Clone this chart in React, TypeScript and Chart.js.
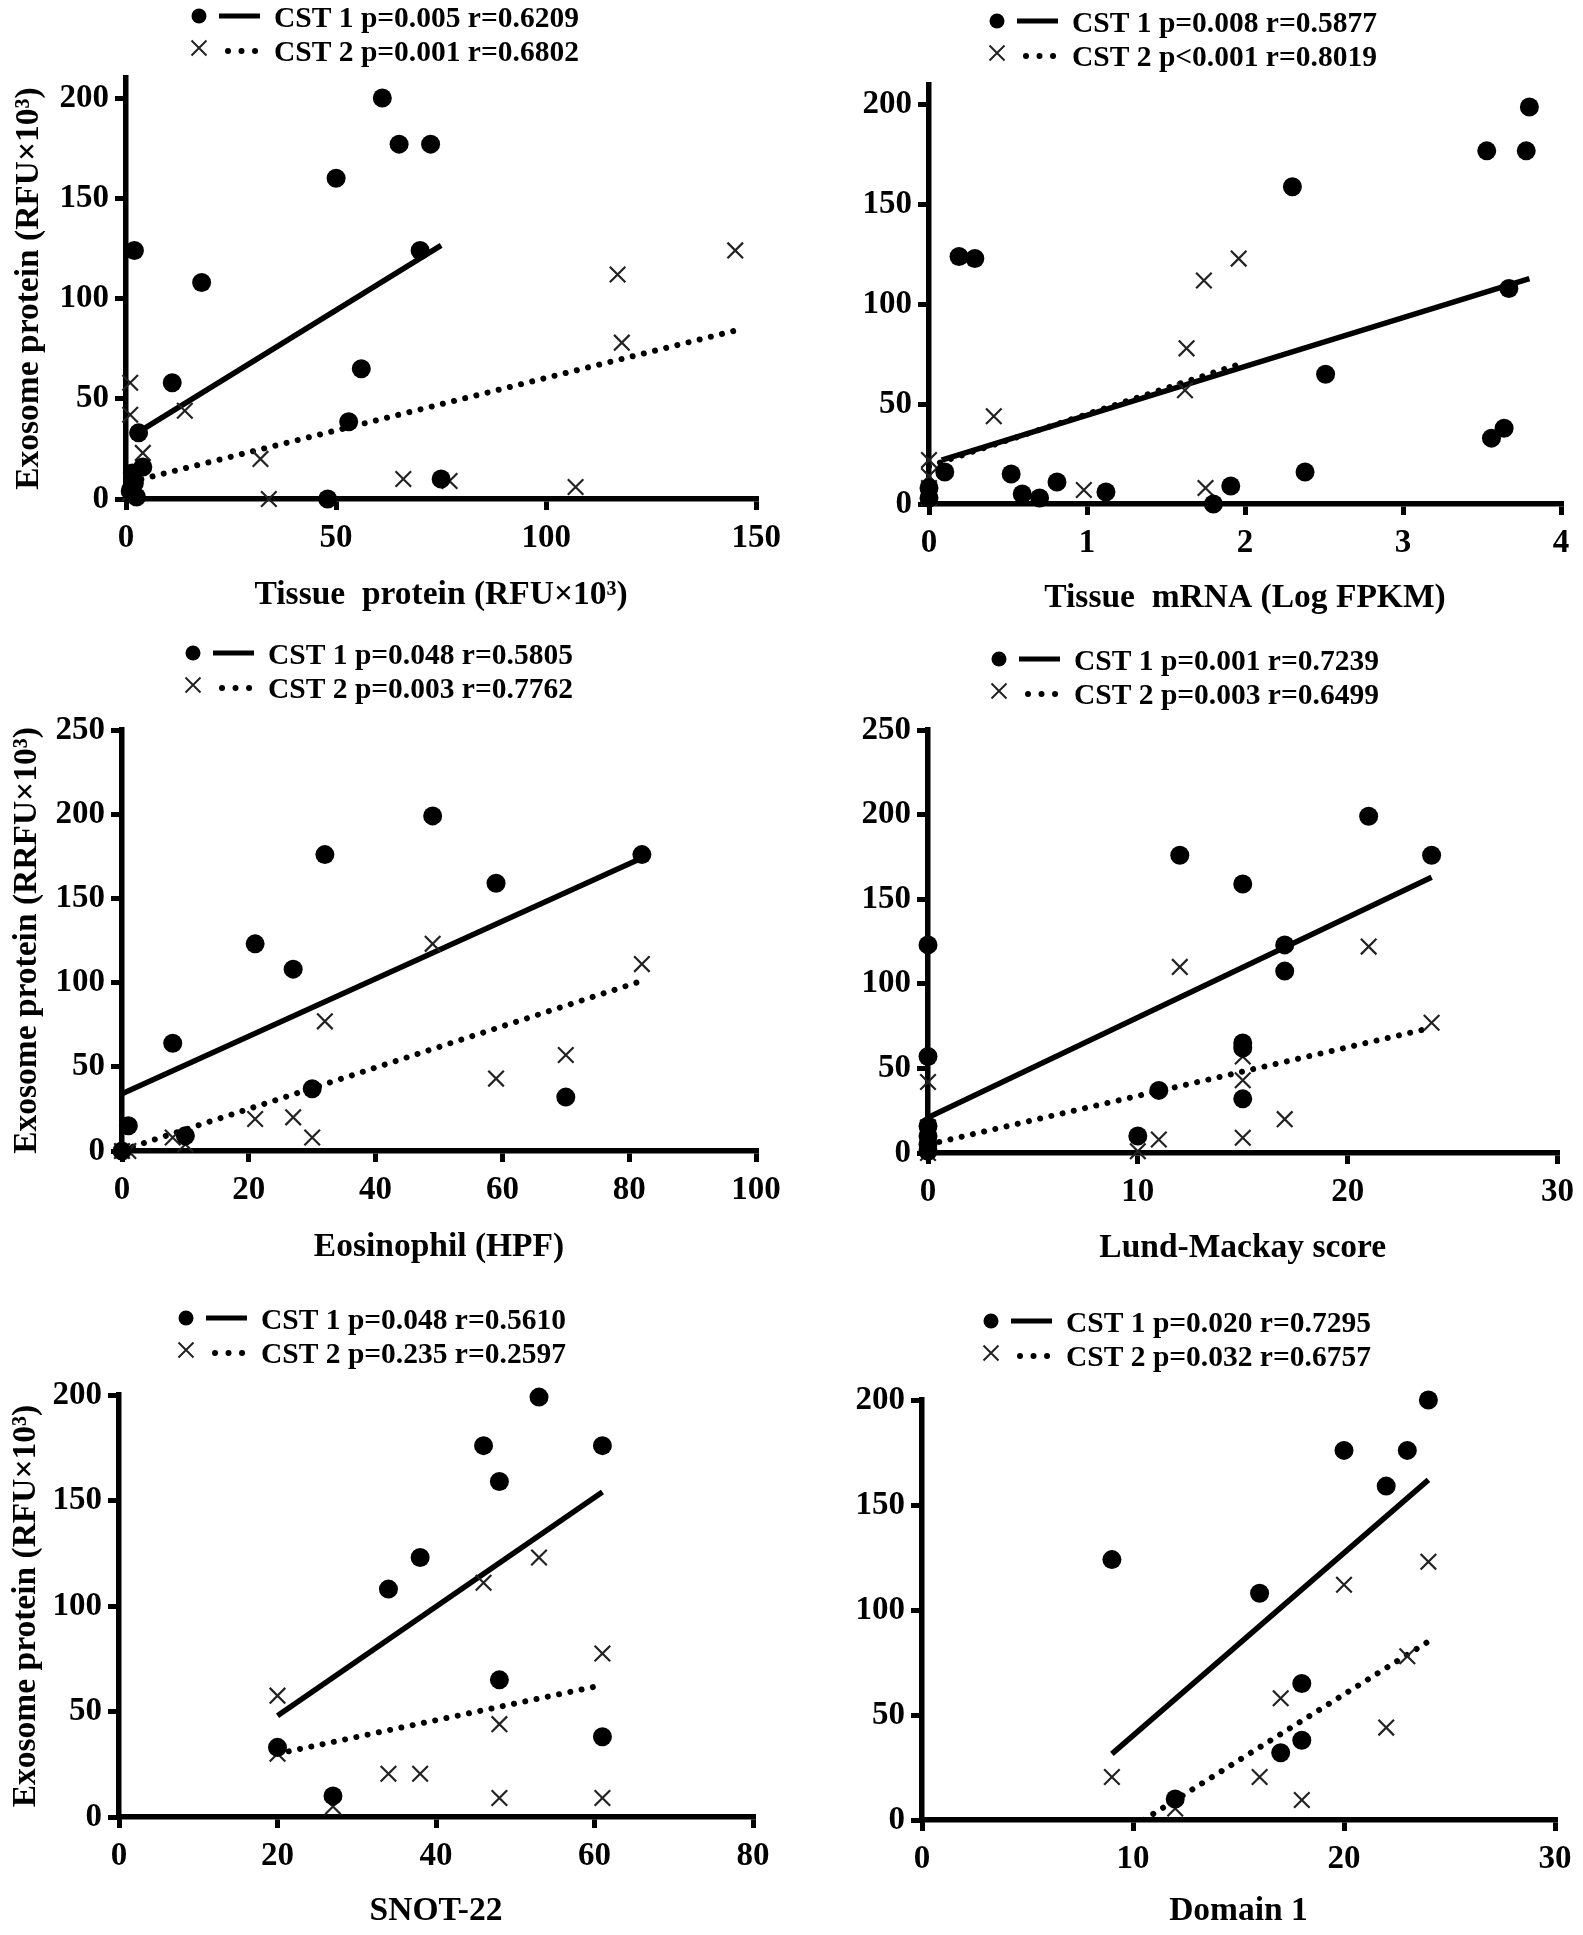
import React, { useEffect, useRef } from "react";
import { Chart, registerables } from "chart.js";

Chart.register(...registerables);

const FONT = "'Liberation Serif', 'Times New Roman', Times, serif";

// ---------- Panel 1: Tissue protein ----------
const tissueProteinCst1: number[][] = [
  [61, 200], [65, 177], [72.5, 177], [50, 160], [2, 124], [70, 124], [18, 108],
  [11, 58], [56, 65], [53, 38.5], [3, 33], [4, 16], [75, 10], [48, 0],
  [1.5, 13], [2, 8], [1, 4], [2.5, 1],
];
const tissueProteinCst2: number[][] = [
  [145, 124], [117, 112], [118, 78], [1, 58], [1, 42], [14, 44], [4, 23],
  [32, 20], [34, 0], [66, 10], [77, 9], [107, 6], [2, 12], [1, 3],
];
const tissueProteinFit1: number[][] = [[1.5, 31.5], [75, 126.5]];
const tissueProteinFit2: number[][] = [[1, 8.5], [145, 84]];
const tissueProteinLegend = ["CST 1 p=0.005 r=0.6209", "CST 2 p=0.001 r=0.6802"];
const tissueProteinXTicks = [0, 50, 100, 150];

// ---------- Panel 2: Tissue mRNA ----------
const tissueMrnaCst1: number[][] = [
  [3.8, 199], [3.53, 177], [3.78, 177], [2.3, 159], [0.19, 124], [0.29, 123],
  [3.67, 108], [2.51, 65], [3.64, 38], [3.56, 33], [2.38, 16], [1.91, 9],
  [1.8, 0], [1.12, 6], [0.81, 11], [0.7, 3], [0.59, 5], [0.52, 15], [0.1, 16],
  [0, 8], [0, 3],
];
const tissueMrnaCst2: number[][] = [
  [1.96, 123], [1.74, 112], [1.63, 78], [1.62, 57], [0.41, 44], [0.98, 7],
  [1.75, 8], [0, 22], [0, 14], [0, 8], [0, 3],
];
const tissueMrnaFit1: number[][] = [[0.08, 22], [3.8, 113]];
const tissueMrnaFit2: number[][] = [[0, 19], [1.96, 70]];
const tissueMrnaLegend = ["CST 1 p=0.008 r=0.5877", "CST 2 p<0.001 r=0.8019"];
const tissueMrnaXTicks = [0, 1, 2, 3, 4];

// ---------- Panel 3: Eosinophil ----------
const eosinophilCst1: number[][] = [
  [49, 199], [32, 176], [82, 176], [59, 159], [21, 123], [27, 108], [8, 64],
  [30, 37], [70, 32], [1, 15], [10, 9], [0, 0],
];
const eosinophilCst2: number[][] = [
  [49, 123], [82, 111], [32, 77], [70, 57], [59, 43], [21, 19], [27, 20],
  [30, 8], [8, 8], [10, 4], [1, 0], [0, 0],
];
const eosinophilFit1: number[][] = [[0, 34], [82, 174]];
const eosinophilFit2: number[][] = [[0, 0.5], [82, 101]];
const eosinophilLegend = ["CST 1 p=0.048 r=0.5805", "CST 2 p=0.003 r=0.7762"];
const eosinophilXTicks = [0, 20, 40, 60, 80, 100];

// ---------- Panel 4: Lund-Mackay ----------
const lundMackayCst1: number[][] = [
  [21, 199], [12, 176], [24, 176], [15, 159], [0, 123], [17, 123], [17, 107.5],
  [15, 65], [15, 62], [0, 57], [11, 37], [15, 32], [10, 10], [0, 16], [0, 10],
  [0, 5], [0, 1],
];
const lundMackayCst2: number[][] = [
  [21, 122], [12, 110], [24, 77], [15, 57], [15, 43], [0, 42], [17, 20],
  [11, 8], [15, 9], [10, 1], [0, 15], [0, 5], [0, 0],
];
const lundMackayFit1: number[][] = [[0, 21], [24, 163]];
const lundMackayFit2: number[][] = [[0, 5], [24, 74]];
const lundMackayLegend = ["CST 1 p=0.001 r=0.7239", "CST 2 p=0.003 r=0.6499"];
const lundMackayXTicks = [0, 10, 20, 30];

// ---------- Panel 5: SNOT-22 ----------
const snotCst1: number[][] = [
  [53, 199], [46, 176], [61, 176], [48, 159], [38, 123], [34, 108], [48, 65],
  [61, 38], [20, 33], [27, 10],
];
const snotCst2: number[][] = [
  [53, 123], [46, 111], [61, 77.5], [20, 57.5], [48, 44], [34, 20.5],
  [38, 20.5], [48, 9], [61, 9], [27, 5], [20, 30],
];
const snotFit1: number[][] = [[20, 48], [61, 154]];
const snotFit2: number[][] = [[20, 30], [61, 62.5]];
const snotLegend = ["CST 1 p=0.048 r=0.5610", "CST 2 p=0.235 r=0.2597"];
const snotXTicks = [0, 20, 40, 60, 80];

// ---------- Panel 6: Domain 1 ----------
const domainCst1: number[][] = [
  [24, 200], [20, 176], [23, 176], [22, 159], [9, 124], [16, 108], [18, 65],
  [18, 38], [17, 32], [12, 10],
];
const domainCst2: number[][] = [
  [24, 123], [20, 112], [23, 78], [17, 58], [22, 44], [9, 20.5], [16, 20.5],
  [18, 9.5], [12, 5.5],
];
const domainFit1: number[][] = [[9, 31.5], [24, 162]];
const domainFit2: number[][] = [[10.5, 0], [24, 85]];
const domainLegend = ["CST 1 p=0.020 r=0.7295", "CST 2 p=0.032 r=0.6757"];
const domainXTicks = [0, 10, 20, 30];

const yTicks200 = [0, 50, 100, 150, 200];
const yTicks250 = [0, 50, 100, 150, 200, 250];

// ---------- layout (page pixel coordinates) ----------
type Box = { x: number; y: number; w: number; h: number };
type Panel = {
  box: Box;
  area: { l: number; r: number; t: number; b: number };
  xMax: number;
  yMax: number;
  xTicks: number[];
  yTicks: number[];
  cst1: number[][];
  cst2: number[][];
  fit1: number[][];
  fit2: number[][];
  legend: string[];
  legendAt: { x: number; y: number };
  xTitle: string;
  xTitleY: number;
  yTitle: string | null;
  yTitleX: number;
};

const panels: Panel[] = [
  {
    box: { x: 0, y: 0, w: 790, h: 620 },
    area: { l: 126, r: 758, t: 78, b: 499 },
    xMax: 150, yMax: 210, xTicks: tissueProteinXTicks, yTicks: yTicks200,
    cst1: tissueProteinCst1, cst2: tissueProteinCst2,
    fit1: tissueProteinFit1, fit2: tissueProteinFit2,
    legend: tissueProteinLegend, legendAt: { x: 199, y: 16 },
    xTitle: "Tissue  protein (RFU×10³)", xTitleY: 595,
    yTitle: "Exosome protein (RFU×10³)", yTitleX: 29,
  },
  {
    box: { x: 790, y: 0, w: 793, h: 620 },
    area: { l: 929, r: 1561, t: 85, b: 504 },
    xMax: 4, yMax: 210, xTicks: tissueMrnaXTicks, yTicks: yTicks200,
    cst1: tissueMrnaCst1, cst2: tissueMrnaCst2,
    fit1: tissueMrnaFit1, fit2: tissueMrnaFit2,
    legend: tissueMrnaLegend, legendAt: { x: 997, y: 21 },
    xTitle: "Tissue  mRNA (Log FPKM)", xTitleY: 598,
    yTitle: null, yTitleX: 0,
  },
  {
    box: { x: 0, y: 620, w: 790, h: 670 },
    area: { l: 122, r: 756, t: 730, b: 1151 },
    xMax: 100, yMax: 250, xTicks: eosinophilXTicks, yTicks: yTicks250,
    cst1: eosinophilCst1, cst2: eosinophilCst2,
    fit1: eosinophilFit1, fit2: eosinophilFit2,
    legend: eosinophilLegend, legendAt: { x: 193, y: 653 },
    xTitle: "Eosinophil (HPF)", xTitleY: 1247,
    yTitle: "Exosome protein (RRFU×10³)", yTitleX: 27,
  },
  {
    box: { x: 790, y: 620, w: 793, h: 670 },
    area: { l: 928, r: 1561, t: 730, b: 1153 },
    xMax: 30, yMax: 250, xTicks: lundMackayXTicks, yTicks: yTicks250,
    cst1: lundMackayCst1, cst2: lundMackayCst2,
    fit1: lundMackayFit1, fit2: lundMackayFit2,
    legend: lundMackayLegend, legendAt: { x: 999, y: 659 },
    xTitle: "Lund-Mackay score", xTitleY: 1248,
    yTitle: null, yTitleX: 0,
  },
  {
    box: { x: 0, y: 1290, w: 790, h: 645 },
    area: { l: 119, r: 753, t: 1395, b: 1817 },
    xMax: 80, yMax: 200, xTicks: snotXTicks, yTicks: yTicks200,
    cst1: snotCst1, cst2: snotCst2,
    fit1: snotFit1, fit2: snotFit2,
    legend: snotLegend, legendAt: { x: 186, y: 1318 },
    xTitle: "SNOT-22", xTitleY: 1911,
    yTitle: "Exosome protein (RFU×10³)", yTitleX: 26,
  },
  {
    box: { x: 790, y: 1290, w: 793, h: 645 },
    area: { l: 922, r: 1555, t: 1400, b: 1820 },
    xMax: 30, yMax: 200, xTicks: domainXTicks, yTicks: yTicks200,
    cst1: domainCst1, cst2: domainCst2,
    fit1: domainFit1, fit2: domainFit2,
    legend: domainLegend, legendAt: { x: 991, y: 1321 },
    xTitle: "Domain 1", xTitleY: 1911,
    yTitle: null, yTitleX: 0,
  },
];

const TICK_FONT = 33;
const TITLE_FONT = 33.5;
const LEGEND_FONT = 29.5;

const toPts = (arr: number[][]) => arr.map(([x, y]) => ({ x, y }));

function buildChart(canvas: HTMLCanvasElement, p: Panel) {
  const { box, area } = p;
  const titleLH = TITLE_FONT * 1.2;
  const xScaleHeight = box.y + box.h - area.b;
  const yScaleWidth = area.l - box.x;

  const legendPlugin = {
    id: "cstLegend",
    afterDraw(chart: any) {
      const ctx: CanvasRenderingContext2D = chart.ctx;
      const x = p.legendAt.x - box.x;
      const y1 = p.legendAt.y - box.y;
      const y2 = y1 + 34;
      ctx.save();
      // row 1: dot + solid line
      ctx.fillStyle = "#000";
      ctx.beginPath();
      ctx.arc(x, y1, 7.5, 0, Math.PI * 2);
      ctx.fill();
      ctx.strokeStyle = "#000";
      ctx.lineWidth = 5;
      ctx.lineCap = "butt";
      ctx.beginPath();
      ctx.moveTo(x + 20, y1);
      ctx.lineTo(x + 61, y1);
      ctx.stroke();
      // row 2: cross + dotted line
      ctx.strokeStyle = "#222";
      ctx.lineWidth = 2;
      const c = 7.5;
      ctx.beginPath();
      ctx.moveTo(x - c, y2 - 2 - c);
      ctx.lineTo(x + c, y2 - 2 + c);
      ctx.moveTo(x + c, y2 - 2 - c);
      ctx.lineTo(x - c, y2 - 2 + c);
      ctx.stroke();
      ctx.strokeStyle = "#000";
      ctx.lineWidth = 6;
      ctx.lineCap = "round";
      ctx.setLineDash([0.01, 13.5]);
      ctx.beginPath();
      ctx.moveTo(x + 29, y2 + 1);
      ctx.lineTo(x + 57, y2 + 1);
      ctx.stroke();
      ctx.setLineDash([]);
      ctx.fillStyle = "#000";
      ctx.font = `bold ${LEGEND_FONT}px ${FONT}`;
      ctx.textBaseline = "middle";
      ctx.textAlign = "left";
      ctx.fillText(p.legend[0], x + 75, y1 + 3);
      ctx.fillText(p.legend[1], x + 75, y2 + 3);
      ctx.restore();
    },
  };

  const axisCommon = {
    type: "linear" as const,
    min: 0,
    grid: {
      display: true,
      drawOnChartArea: false,
      drawTicks: true,
      tickLength: 11,
      tickWidth: 5,
      tickColor: "#000",
      color: "#000",
      lineWidth: 5,
    },
    border: { display: true, width: 5.5, color: "#000" },
  };

  return new Chart(canvas, {
    type: "scatter",
    data: {
      datasets: [
        {
          label: "CST 1",
          data: toPts(p.cst1),
          pointStyle: "circle",
          pointRadius: 9.5,
          backgroundColor: "#000",
          borderColor: "#000",
          pointBorderWidth: 0,
          showLine: false,
          clip: false,
        },
        {
          label: "CST 2",
          data: toPts(p.cst2),
          pointStyle: "crossRot",
          pointRadius: 11,
          backgroundColor: "#222",
          borderColor: "#222",
          pointBorderWidth: 2.2,
          showLine: false,
          clip: false,
        },
        {
          label: "CST 1 fit",
          data: toPts(p.fit1),
          showLine: true,
          borderColor: "#000",
          borderWidth: 5.5,
          pointRadius: 0,
          fill: false,
        },
        {
          label: "CST 2 fit",
          data: toPts(p.fit2),
          showLine: true,
          borderColor: "#000",
          borderWidth: 6,
          borderDash: [0.01, 11.5],
          borderCapStyle: "round",
          pointRadius: 0,
          fill: false,
        },
      ] as any,
    },
    options: {
      responsive: false,
      animation: false,
      devicePixelRatio: 1,
      events: [],
      layout: {
        padding: {
          left: 0,
          top: area.t - box.y,
          right: box.x + box.w - area.r,
          bottom: 0,
        },
      },
      plugins: {
        legend: { display: false },
        tooltip: { enabled: false },
        title: { display: false },
      },
      scales: {
        x: {
          ...axisCommon,
          position: "bottom",
          max: p.xMax,
          afterBuildTicks: (s: any) => {
            s.ticks = p.xTicks.map((v) => ({ value: v }));
          },
          afterFit: (s: any) => {
            s.height = xScaleHeight;
          },
          ticks: {
            color: "#000",
            font: { family: FONT, size: TICK_FONT, weight: "bold" },
            padding: 9,
            maxRotation: 0,
            autoSkip: false,
          },
          title: {
            display: true,
            text: p.xTitle,
            color: "#000",
            font: { family: FONT, size: TITLE_FONT, weight: "bold" },
            padding: {
              top: 0,
              bottom: box.y + box.h - p.xTitleY - titleLH / 2,
            },
          },
        },
        y: {
          ...axisCommon,
          position: "left",
          max: p.yMax,
          afterBuildTicks: (s: any) => {
            s.ticks = p.yTicks.map((v) => ({ value: v }));
          },
          afterFit: (s: any) => {
            s.width = yScaleWidth;
          },
          ticks: {
            color: "#000",
            font: { family: FONT, size: TICK_FONT, weight: "bold" },
            padding: 6,
            autoSkip: false,
          },
          title: {
            display: !!p.yTitle,
            text: p.yTitle || "",
            color: "#000",
            font: { family: FONT, size: TITLE_FONT, weight: "bold" },
            padding: { top: Math.max(0, p.yTitleX - box.x - titleLH / 2), bottom: 0 },
          },
        },
      },
    } as any,
    plugins: [legendPlugin],
  });
}

function PanelChart({ p }: { p: Panel }) {
  const ref = useRef<HTMLCanvasElement>(null);
  useEffect(() => {
    if (!ref.current) return;
    const chart = buildChart(ref.current, p);
    return () => chart.destroy();
  }, [p]);
  return (
    <canvas
      ref={ref}
      width={p.box.w}
      height={p.box.h}
      style={{
        position: "absolute",
        left: p.box.x,
        top: p.box.y,
        width: p.box.w,
        height: p.box.h,
      }}
    />
  );
}

export default function App() {
  return (
    <div
      style={{
        position: "absolute",
        left: 0,
        top: 0,
        width: 1583,
        height: 1935,
        background: "#fff",
        overflow: "hidden",
      }}
    >
      {panels.map((p, i) => (
        <PanelChart key={i} p={p} />
      ))}
    </div>
  );
}
